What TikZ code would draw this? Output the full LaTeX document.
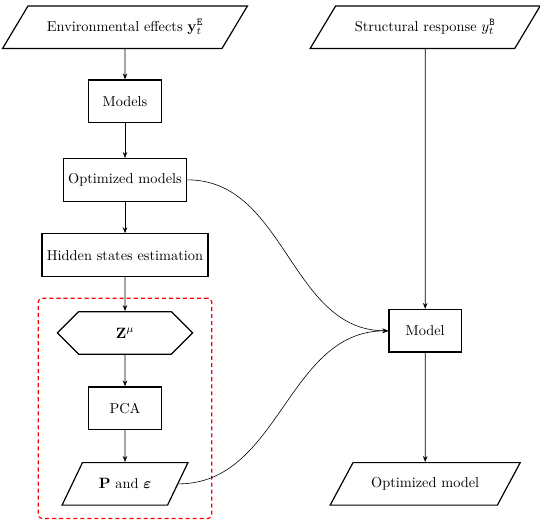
\documentclass[tikz,border=0pt]{standalone}
\usepackage{amsmath}
\usepackage{xcolor}
\usepackage{tikz}
\usetikzlibrary{shapes.geometric, shapes.symbols, arrows.meta, positioning, fit}

\begin{document}
\begin{tikzpicture}[
    font=\fontsize{9.6pt}{11pt}\selectfont,
    block/.style={rectangle, draw, thick, minimum width=1.7cm, minimum height=1cm, align=center},
    io/.style={trapezium, trapezium left angle=45, trapezium right angle=135, trapezium stretches body, draw, thick, minimum height=1cm, align=center},
    hexa/.style={signal, signal to=east and west, draw, thick, minimum width=3.18cm, minimum height=1cm},
    arrow/.style={-{Stealth[length=4pt,width=3pt]}},
    group/.style={draw=red, thick, dash pattern=on 2.7pt off 2pt, rounded corners=2.5pt}
]
\useasboundingbox (0,0) rectangle (12.7,-12.28);

% Left column
\node[io, minimum width=5.76cm] (env) at (2.94,-0.64) {Environmental effects $\mathbf{y}_t^{\mathtt{E}}$};
\node[block] (models) at (2.94,-2.38) {Models};
\node[block] (optmodels) at (2.94,-4.23) {Optimized models};
\node[block] (hidden) at (2.94,-6.0) {Hidden states estimation};
\node[hexa] (zmu) at (2.94,-7.83) {$\mathbf{Z}^{\mu}$};
\node[block] (pca) at (2.94,-9.6) {PCA};
\node[io, minimum width=2.96cm] (pe) at (2.94,-11.38) {$\mathbf{P}$ and $\boldsymbol{\varepsilon}$};

% Right column
\node[io, minimum width=5.41cm] (struct) at (10.0,-0.64) {Structural response $y_t^{\mathtt{B}}$};
\node[block] (model) at (10.0,-7.78) {Model};
\node[io, minimum width=4.47cm] (optmodel) at (10.0,-11.38) {Optimized model};

% Dashed group
\node[group, fit=(zmu) (pca) (pe), inner xsep=0.43cm, inner ysep=0.3cm] (box) {};

% Connectors
\draw[arrow] (env) -- (models);
\draw[arrow] (models) -- (optmodels);
\draw[arrow] (optmodels) -- (hidden);
\draw[arrow] (hidden) -- (zmu);
\draw[arrow] (zmu) -- (pca);
\draw[arrow] (pca) -- (pe);
\draw[arrow] (struct) -- (model);
\draw[arrow] (model) -- (optmodel);
\draw[arrow] (optmodels.east) to[out=0, in=180] (model.west);
\draw[arrow] (pe.east) to[out=0, in=180] (model.west);

\end{tikzpicture}
\end{document}
